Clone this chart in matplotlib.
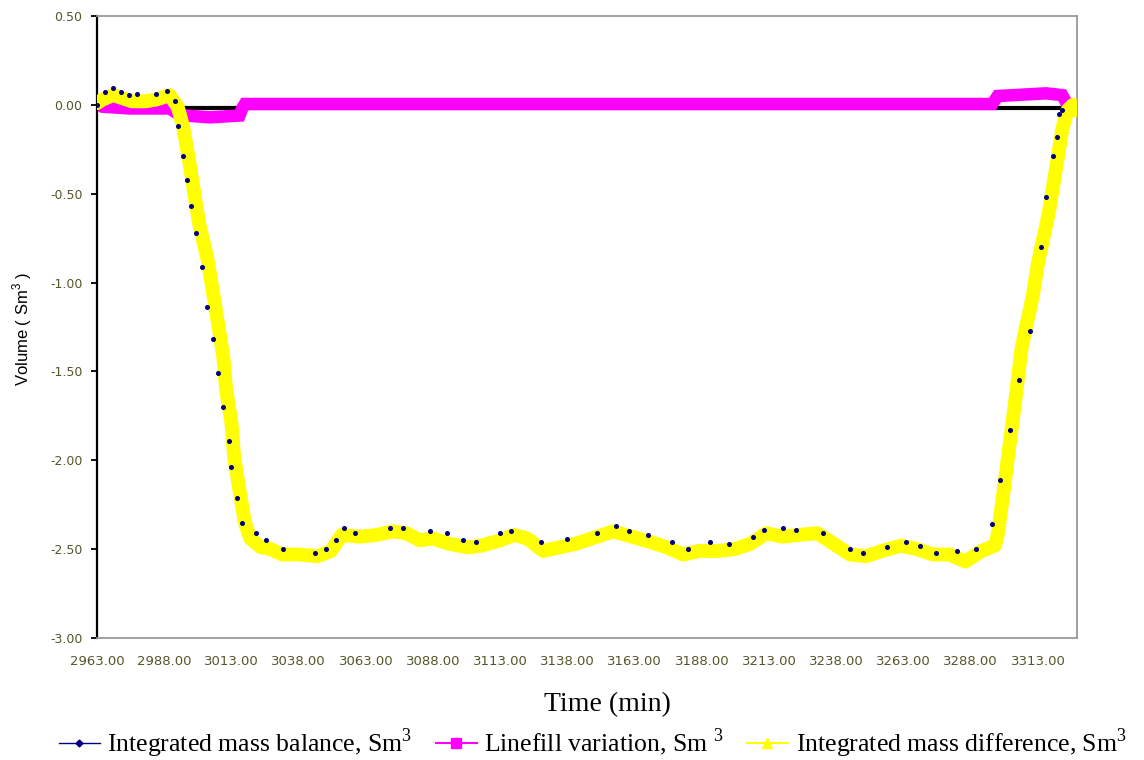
import matplotlib
matplotlib.use("Agg")
import matplotlib.pyplot as plt
from matplotlib.lines import Line2D

plt.rcParams["axes.unicode_minus"] = False
plt.rcParams["mathtext.fontset"] = "custom"
plt.rcParams["mathtext.rm"] = "Liberation Serif"
plt.rcParams["mathtext.sf"] = "Liberation Sans"

# ---------------------------
# data (time in min, volume in Sm3)
# ---------------------------
diff_time = [2963, 2965, 2969, 2972, 2976, 2981, 2985, 2990, 2993, 2995,
             2997, 2999, 3001, 3004, 3006, 3008, 3010, 3011, 3013, 3014,
             3016, 3018, 3020, 3024, 3026, 3032, 3038, 3045, 3050, 3054,
             3061, 3067, 3073, 3078, 3083, 3088, 3094, 3101, 3106, 3113,
             3118, 3123, 3129, 3135, 3141, 3149, 3155, 3162, 3169, 3175,
             3181, 3187, 3194, 3200, 3206, 3212, 3218, 3224, 3231, 3237,
             3243, 3249, 3255, 3262, 3268, 3274, 3280, 3286, 3292, 3297,
             3298, 3300, 3304, 3307, 3311, 3313, 3317, 3320, 3322, 3324,
             3326, 3327]
diff_vol = [0.01, 0.03, 0.055, 0.04, 0.02, 0.02, 0.03, 0.055, -0.01, -0.12,
            -0.29, -0.48, -0.67, -0.86, -1.04, -1.23, -1.42, -1.60, -1.79, -1.98,
            -2.17, -2.35, -2.44, -2.49, -2.49, -2.53, -2.53, -2.54, -2.51, -2.42,
            -2.43, -2.42, -2.40, -2.41, -2.45, -2.44, -2.47, -2.49, -2.48, -2.45,
            -2.42, -2.44, -2.51, -2.49, -2.47, -2.43, -2.40, -2.43, -2.46, -2.49,
            -2.53, -2.51, -2.51, -2.50, -2.47, -2.41, -2.43, -2.42, -2.41, -2.47,
            -2.53, -2.54, -2.51, -2.48, -2.50, -2.53, -2.53, -2.57, -2.51, -2.48,
            -2.42, -2.20, -1.73, -1.36, -1.08, -0.89, -0.61, -0.33, -0.14, -0.03,
            0.00, -0.03]

balance_time = [2963, 2966, 2969, 2972, 2975, 2978, 2985, 2989, 2992, 2993,
                2995, 2996.5, 2998, 3000, 3002, 3004, 3006, 3008, 3010, 3012,
                3013, 3015, 3017, 3022, 3026, 3032, 3044, 3048, 3052, 3055,
                3059, 3072, 3077, 3087, 3093, 3099, 3104, 3113, 3117, 3128,
                3138, 3149, 3156, 3161, 3168, 3177, 3183, 3191, 3198, 3207,
                3211, 3218, 3223, 3233, 3243, 3248, 3257, 3264, 3269, 3275,
                3283, 3290, 3296, 3299, 3302.5, 3306, 3310, 3314, 3316, 3318.5,
                3320, 3321, 3322]
balance_vol = [0.0, 0.07, 0.095, 0.07, 0.055, 0.06, 0.06, 0.08, 0.02, -0.12,
               -0.29, -0.42, -0.57, -0.72, -0.91, -1.14, -1.32, -1.51, -1.70, -1.89,
               -2.04, -2.21, -2.35, -2.41, -2.45, -2.50, -2.52, -2.50, -2.45, -2.38,
               -2.41, -2.38, -2.38, -2.40, -2.41, -2.45, -2.46, -2.41, -2.40, -2.46,
               -2.44, -2.41, -2.37, -2.40, -2.42, -2.46, -2.50, -2.46, -2.47, -2.43,
               -2.39, -2.38, -2.39, -2.41, -2.50, -2.52, -2.49, -2.46, -2.48, -2.52,
               -2.51, -2.50, -2.36, -2.11, -1.83, -1.55, -1.27, -0.80, -0.52, -0.29,
               -0.18, -0.05, -0.03]

linefill_time = [2963, 2965, 2975, 2990, 2993, 2996, 3005, 3016, 3017, 3018,
                 3100, 3200, 3296, 3298, 3310, 3316, 3322, 3324, 3327]
linefill_vol = [0.01, -0.01, -0.02, -0.02, -0.05, -0.06, -0.07, -0.06, -0.02, 0.005,
                0.005, 0.005, 0.005, 0.05, 0.06, 0.065, 0.055, 0.0, -0.02]

# flat black reference line at about zero
ref_time = [2994, 3322]
ref_vol = [-0.02, -0.02]

x_ticks = list(range(2963, 3314, 25))
y_ticks = [0.5, 0.0, -0.5, -1.0, -1.5, -2.0, -2.5, -3.0]

label_color = "#55552b"
navy = "#000080"
pink = "#ff00ff"
yellow = "#ffff00"

fig = plt.figure(figsize=(11.44, 7.6), dpi=100)
ax = fig.add_axes([0.0848, 0.1605, 0.8566, 0.8184])

ax.plot(ref_time, ref_vol, color="black", lw=3, solid_capstyle="butt", zorder=1)
ax.plot(linefill_time, linefill_vol, color=pink, lw=9, solid_capstyle="butt",
        solid_joinstyle="miter", zorder=2)
ax.plot(diff_time, diff_vol, color=yellow, lw=10, solid_capstyle="round",
        solid_joinstyle="round", zorder=3)
ax.plot(balance_time, balance_vol, ls="none", marker="o", ms=2.6,
        color=navy, zorder=4)

ax.set_xlim(2963, 3327.5)
ax.set_ylim(-3.0, 0.5)
ax.set_xticks(x_ticks)
ax.set_xticklabels([f"{v:.2f}" for v in x_ticks], fontsize=9.5,
                   color=label_color, family="DejaVu Sans")
ax.set_yticks(y_ticks)
ax.set_yticklabels([f"{v:.2f}" for v in y_ticks], fontsize=9,
                   color=label_color, family="DejaVu Sans")
ax.tick_params(axis="x", length=0, pad=12)
ax.tick_params(axis="y", length=4.5, width=1.3, pad=6, direction="out")

for side in ["top", "right", "bottom"]:
    ax.spines[side].set_color("#999999")
    ax.spines[side].set_linewidth(1.3)
ax.spines["left"].set_color("black")
ax.spines["left"].set_linewidth(1.6)

fig.text(0.019, 0.568, r"Volume ( Sm$^\mathsf{3}$ )", rotation=90,
         ha="center", va="center", fontsize=12, family="Liberation Sans")
fig.text(0.531, 0.0724, "Time (min)", ha="center", va="center",
         fontsize=20, family="Liberation Serif")

handles = [
    Line2D([], [], color=navy, lw=1, marker="D", ms=3.5),
    Line2D([], [], color=pink, lw=1.5, marker="s", ms=7),
    Line2D([], [], color=yellow, lw=1.5, marker="^", ms=7),
]
labels = [r"Integrated mass balance, Sm$^\mathrm{3}$",
          r"Linefill variation, Sm $^\mathrm{3}$",
          r"Integrated mass difference, Sm$^\mathrm{3}$"]
fig.legend(handles, labels, loc="lower center", bbox_to_anchor=(0.518, -0.03),
           ncol=3, frameon=False, handlelength=1.6, handletextpad=0.3,
           columnspacing=0.9, prop={"family": "Liberation Serif", "size": 18.5})

fig.savefig("out.png", dpi=100)
print("Saved out.png")
